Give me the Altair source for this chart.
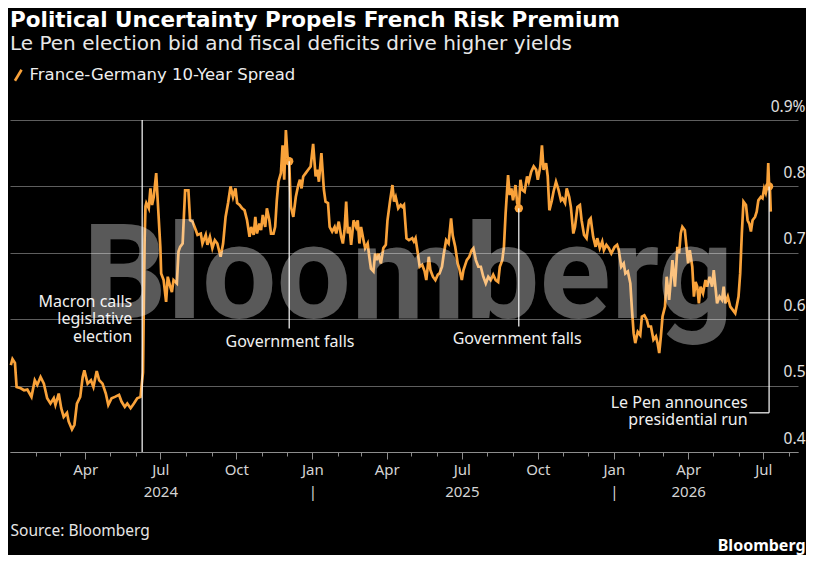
import altair as alt
import pandas as pd

SERIES = "France-Germany 10-Year Spread"
ORANGE = "#f9a23a"
FONT = "Noto Sans"
HEAD_FONT = "DejaVu Sans"

spread_2024 = [
    ("2024-01-02", 0.531), ("2024-01-04", 0.540), ("2024-01-07", 0.534), ("2024-01-09", 0.498),
    ("2024-01-14", 0.496), ("2024-01-18", 0.493), ("2024-01-22", 0.494), ("2024-01-27", 0.483),
    ("2024-01-31", 0.508), ("2024-02-03", 0.501), ("2024-02-07", 0.513), ("2024-02-11", 0.503),
    ("2024-02-15", 0.481), ("2024-02-19", 0.473), ("2024-02-23", 0.481), ("2024-02-25", 0.471),
    ("2024-02-29", 0.488), ("2024-03-03", 0.466), ("2024-03-06", 0.453), ("2024-03-10", 0.459),
    ("2024-03-12", 0.446), ("2024-03-16", 0.434), ("2024-03-19", 0.441), ("2024-03-22", 0.473),
    ("2024-03-26", 0.483), ("2024-03-29", 0.513), ("2024-03-31", 0.523), ("2024-04-04", 0.503),
    ("2024-04-08", 0.508), ("2024-04-11", 0.498), ("2024-04-15", 0.522), ("2024-04-18", 0.508),
    ("2024-04-22", 0.503), ("2024-04-26", 0.488), ("2024-04-29", 0.471), ("2024-05-03", 0.481),
    ("2024-05-07", 0.483), ("2024-05-12", 0.486), ("2024-05-15", 0.476), ("2024-05-19", 0.468),
    ("2024-05-22", 0.473), ("2024-05-26", 0.466), ("2024-05-30", 0.473), ("2024-06-03", 0.481),
    ("2024-06-07", 0.483), ("2024-06-10", 0.520), ("2024-06-11", 0.620), ("2024-06-12", 0.720),
    ("2024-06-13", 0.770), ("2024-06-14", 0.775), ("2024-06-17", 0.767), ("2024-06-19", 0.797),
    ("2024-06-21", 0.772), ("2024-06-23", 0.784), ("2024-06-26", 0.820), ("2024-06-28", 0.775),
    ("2024-07-01", 0.709), ("2024-07-02", 0.669), ("2024-07-05", 0.659), ("2024-07-08", 0.626),
    ("2024-07-10", 0.664), ("2024-07-13", 0.649), ("2024-07-15", 0.641), ("2024-07-17", 0.659),
    ("2024-07-21", 0.654), ("2024-07-23", 0.702), ("2024-07-25", 0.709), ("2024-07-28", 0.714),
    ("2024-07-31", 0.794), ("2024-08-04", 0.794), ("2024-08-06", 0.749), ("2024-08-09", 0.747),
    ("2024-08-13", 0.734), ("2024-08-15", 0.727), ("2024-08-19", 0.729), ("2024-08-21", 0.714),
    ("2024-08-25", 0.727), ("2024-08-27", 0.712), ("2024-08-30", 0.724), ("2024-09-02", 0.707),
    ("2024-09-05", 0.719), ("2024-09-08", 0.714), ("2024-09-12", 0.694), ("2024-09-15", 0.714),
    ("2024-09-18", 0.754), ("2024-09-21", 0.775), ("2024-09-24", 0.800), ("2024-09-27", 0.784),
    ("2024-09-30", 0.797), ("2024-10-02", 0.775), ("2024-10-05", 0.772), ("2024-10-08", 0.767),
    ("2024-10-11", 0.764), ("2024-10-14", 0.749), ("2024-10-17", 0.724), ("2024-10-19", 0.739),
    ("2024-10-22", 0.727), ("2024-10-24", 0.754), ("2024-10-26", 0.729), ("2024-10-29", 0.744),
    ("2024-10-31", 0.734), ("2024-11-02", 0.757), ("2024-11-05", 0.739), ("2024-11-07", 0.767),
    ("2024-11-10", 0.749), ("2024-11-12", 0.729), ("2024-11-15", 0.729), ("2024-11-17", 0.739),
    ("2024-11-19", 0.779), ("2024-11-21", 0.807), ("2024-11-24", 0.820), ("2024-11-26", 0.862),
    ("2024-11-28", 0.810), ("2024-11-30", 0.885), ("2024-12-02", 0.845), ("2024-12-04", 0.838),
    ("2024-12-06", 0.770), ("2024-12-09", 0.754), ("2024-12-12", 0.784), ("2024-12-15", 0.802),
    ("2024-12-17", 0.810), ("2024-12-19", 0.797), ("2024-12-21", 0.815), ("2024-12-24", 0.820),
    ("2024-12-27", 0.825), ("2024-12-30", 0.830),
]

spread_2025 = [
    ("2025-01-02", 0.864), ("2025-01-05", 0.815), ("2025-01-07", 0.825), ("2025-01-09", 0.807),
    ("2025-01-12", 0.850), ("2025-01-15", 0.795), ("2025-01-17", 0.777), ("2025-01-20", 0.775),
    ("2025-01-22", 0.739), ("2025-01-25", 0.732), ("2025-01-28", 0.739), ("2025-01-30", 0.729),
    ("2025-02-02", 0.747), ("2025-02-05", 0.724), ("2025-02-07", 0.714), ("2025-02-09", 0.734),
    ("2025-02-11", 0.777), ("2025-02-13", 0.729), ("2025-02-15", 0.739), ("2025-02-17", 0.712),
    ("2025-02-20", 0.749), ("2025-02-23", 0.739), ("2025-02-25", 0.749), ("2025-02-27", 0.714),
    ("2025-03-01", 0.739), ("2025-03-04", 0.719), ("2025-03-06", 0.707), ("2025-03-09", 0.714),
    ("2025-03-11", 0.694), ("2025-03-13", 0.676), ("2025-03-16", 0.672), ("2025-03-18", 0.699),
    ("2025-03-20", 0.689), ("2025-03-22", 0.699), ("2025-03-25", 0.684), ("2025-03-28", 0.707),
    ("2025-03-31", 0.712), ("2025-04-02", 0.749), ("2025-04-05", 0.777), ("2025-04-08", 0.802),
    ("2025-04-10", 0.777), ("2025-04-12", 0.784), ("2025-04-15", 0.767), ("2025-04-18", 0.772),
    ("2025-04-20", 0.769), ("2025-04-22", 0.772), ("2025-04-25", 0.722), ("2025-04-28", 0.719),
    ("2025-05-02", 0.722), ("2025-05-04", 0.717), ("2025-05-06", 0.722), ("2025-05-09", 0.697),
    ("2025-05-11", 0.679), ("2025-05-14", 0.682), ("2025-05-17", 0.672), ("2025-05-19", 0.659),
    ("2025-05-22", 0.694), ("2025-05-24", 0.674), ("2025-05-27", 0.664), ("2025-05-30", 0.659),
    ("2025-06-02", 0.667), ("2025-06-04", 0.669), ("2025-06-07", 0.679), ("2025-06-09", 0.697),
    ("2025-06-12", 0.719), ("2025-06-15", 0.714), ("2025-06-18", 0.752), ("2025-06-20", 0.726),
    ("2025-06-23", 0.709), ("2025-06-26", 0.684), ("2025-06-28", 0.676), ("2025-07-01", 0.659),
    ("2025-07-03", 0.674), ("2025-07-07", 0.689), ("2025-07-10", 0.694), ("2025-07-13", 0.704),
    ("2025-07-15", 0.707), ("2025-07-18", 0.689), ("2025-07-21", 0.679), ("2025-07-24", 0.679),
    ("2025-07-27", 0.664), ("2025-07-30", 0.654), ("2025-08-02", 0.664), ("2025-08-05", 0.659),
    ("2025-08-08", 0.667), ("2025-08-11", 0.659), ("2025-08-14", 0.656), ("2025-08-16", 0.679),
    ("2025-08-19", 0.689), ("2025-08-21", 0.709), ("2025-08-23", 0.759), ("2025-08-26", 0.817),
    ("2025-08-28", 0.787), ("2025-08-30", 0.797), ("2025-09-01", 0.779), ("2025-09-04", 0.802),
    ("2025-09-06", 0.775), ("2025-09-08", 0.767), ("2025-09-10", 0.810), ("2025-09-12", 0.795),
    ("2025-09-15", 0.792), ("2025-09-18", 0.815), ("2025-09-20", 0.807), ("2025-09-23", 0.822),
    ("2025-09-26", 0.830), ("2025-09-29", 0.825), ("2025-10-01", 0.810), ("2025-10-04", 0.830),
    ("2025-10-06", 0.862), ("2025-10-08", 0.825), ("2025-10-11", 0.835), ("2025-10-13", 0.815),
    ("2025-10-15", 0.764), ("2025-10-18", 0.779), ("2025-10-20", 0.792), ("2025-10-23", 0.807),
    ("2025-10-26", 0.795), ("2025-10-29", 0.779), ("2025-10-31", 0.782), ("2025-11-03", 0.775),
    ("2025-11-05", 0.797), ("2025-11-08", 0.784), ("2025-11-10", 0.769), ("2025-11-13", 0.729),
    ("2025-11-15", 0.739), ("2025-11-18", 0.769), ("2025-11-21", 0.772), ("2025-11-23", 0.749),
    ("2025-11-26", 0.727), ("2025-11-29", 0.722), ("2025-12-02", 0.749), ("2025-12-04", 0.752),
    ("2025-12-07", 0.724), ("2025-12-10", 0.709), ("2025-12-12", 0.722), ("2025-12-15", 0.707),
    ("2025-12-18", 0.717), ("2025-12-20", 0.704), ("2025-12-23", 0.712), ("2025-12-26", 0.707),
    ("2025-12-29", 0.699),
]

spread_2026 = [
    ("2026-01-02", 0.709), ("2026-01-05", 0.712), ("2026-01-07", 0.704), ("2026-01-10", 0.679),
    ("2026-01-13", 0.684), ("2026-01-15", 0.669), ("2026-01-18", 0.672), ("2026-01-21", 0.654),
    ("2026-01-23", 0.614), ("2026-01-25", 0.579), ("2026-01-27", 0.564), ("2026-01-30", 0.581),
    ("2026-02-02", 0.576), ("2026-02-04", 0.604), ("2026-02-07", 0.606), ("2026-02-10", 0.599),
    ("2026-02-12", 0.589), ("2026-02-15", 0.589), ("2026-02-18", 0.569), ("2026-02-21", 0.574),
    ("2026-02-23", 0.564), ("2026-02-25", 0.549), ("2026-02-27", 0.574), ("2026-03-01", 0.604),
    ("2026-03-04", 0.619), ("2026-03-06", 0.664), ("2026-03-09", 0.629), ("2026-03-11", 0.659),
    ("2026-03-13", 0.689), ("2026-03-16", 0.649), ("2026-03-19", 0.709), ("2026-03-21", 0.699),
    ("2026-03-23", 0.729), ("2026-03-25", 0.739), ("2026-03-28", 0.734), ("2026-03-30", 0.709),
    ("2026-04-01", 0.684), ("2026-04-03", 0.704), ("2026-04-06", 0.679), ("2026-04-08", 0.634),
    ("2026-04-10", 0.656), ("2026-04-12", 0.649), ("2026-04-14", 0.624), ("2026-04-16", 0.649),
    ("2026-04-19", 0.639), ("2026-04-22", 0.659), ("2026-04-24", 0.649), ("2026-04-27", 0.664),
    ("2026-04-30", 0.649), ("2026-05-02", 0.674), ("2026-05-04", 0.649), ("2026-05-06", 0.624),
    ("2026-05-09", 0.634), ("2026-05-12", 0.629), ("2026-05-14", 0.649), ("2026-05-16", 0.624),
    ("2026-05-19", 0.634), ("2026-05-22", 0.619), ("2026-05-25", 0.614), ("2026-05-28", 0.609),
    ("2026-05-30", 0.621), ("2026-06-01", 0.634), ("2026-06-03", 0.669), ("2026-06-05", 0.729),
    ("2026-06-07", 0.777), ("2026-06-10", 0.772), ("2026-06-12", 0.749), ("2026-06-14", 0.744),
    ("2026-06-16", 0.732), ("2026-06-18", 0.749), ("2026-06-21", 0.754), ("2026-06-23", 0.762),
    ("2026-06-25", 0.779), ("2026-06-28", 0.784), ("2026-06-30", 0.782), ("2026-07-02", 0.797),
    ("2026-07-04", 0.790), ("2026-07-06", 0.802), ("2026-07-07", 0.835), ("2026-07-08", 0.800),
    ("2026-07-09", 0.797), ("2026-07-10", 0.762),
]

# Annotation events: date, top of marker line, bottom of marker line
event_dates = ["2024-06-09", "2024-12-04", "2025-09-08", "2026-07-08"]
event_top = [0.900, 0.838, 0.767, 0.800]
event_bottom = [0.400, 0.586, 0.589, 0.459]
dot_flags = [False, True, True, True]

right_labels = ["Macron calls\nlegislative\nelection", "Le Pen announces\npresidential run"]
right_label_dates = ["2024-05-28", "2026-06-12"]
right_label_values = [0.626, 0.4738]

center_labels = ["Government falls", "Government falls"]
center_label_dates = ["2024-12-05", "2025-09-06"]
center_label_values = [0.565, 0.570]

connector_start = ["2026-06-14"]
connector_end = ["2026-07-08"]
connector_value = [0.459]

y_ticks = [0.4, 0.5, 0.6, 0.7, 0.8, 0.9]

rows = spread_2024 + spread_2025 + spread_2026
df = pd.DataFrame(rows, columns=["date", "value"])
df["series"] = SERIES

events = pd.DataFrame({"date": event_dates, "value": event_top, "value2": event_bottom, "dot": dot_flags})
dots = events[events["dot"]]
rlab = pd.DataFrame({"date": right_label_dates, "value": right_label_values, "label": right_labels})
clab = pd.DataFrame({"date": center_label_dates, "value": center_label_values, "label": center_labels})
conn = pd.DataFrame({"date": connector_start, "date2": connector_end, "value": connector_value})
wm = pd.DataFrame({"date": ["2025-04-27"], "value": [0.602], "label": ["Bloomberg"]})

month_ticks = []
quarter_ticks = []
for yr in (2024, 2025, 2026):
    for mo in range(1, 13):
        if (yr == 2024 and mo == 1) or (yr == 2026 and mo > 8):
            continue
        month_ticks.append(alt.DateTime(year=yr, month=mo, date=1))
        if mo % 3 == 1:
            quarter_ticks.append(alt.DateTime(year=yr, month=mo, date=1))

label_expr = (
    "(month(datum.value) == 6 && year(datum.value) == 2024) ? ['Jul', '2024'] : "
    "(month(datum.value) == 6 && year(datum.value) == 2025) ? ['Jul', '2025'] : "
    "(month(datum.value) == 3 && year(datum.value) == 2026) ? ['Apr', '2026'] : "
    "(month(datum.value) == 0) ? [timeFormat(datum.value, '%b'), '|'] : "
    "timeFormat(datum.value, '%b')"
)

def x_scale():
    return alt.Scale(domain=[alt.DateTime(year=2024, month=1, date=1),
                             alt.DateTime(year=2026, month=8, date=12)])

y_scale = alt.Scale(domain=[0.4, 0.9], nice=False, zero=False)

x_axis = alt.Axis(
    orient="bottom", values=quarter_ticks, labelExpr=label_expr, grid=False,
    domainColor="#8c8c8c", tickColor="#8c8c8c", tickSize=7,
    labelPadding=3, labelFont=FONT, labelFontSize=15, labelColor="#d4d4d4",
    labelLineHeight=22, labelOverlap=False, labelFlush=False,
    title="Source: Bloomberg", titleFont=FONT, titleFontSize=15.5, titleFontWeight="normal",
    titleColor="#e6e6e6", titleX=0, titleY=83, titleAlign="left", titleBaseline="alphabetic",
    titleAngle=0,
)
minor_axis = alt.Axis(
    orient="bottom", values=month_ticks, labels=False, domain=False, grid=False,
    ticks=True, tickSize=4, tickColor="#8c8c8c", title=None,
)
y_axis = alt.Axis(
    orient="right", values=y_ticks, format=".1f",
    labelExpr="datum.value > 0.85 ? datum.label + '%' : datum.label",
    domain=False, ticks=False, grid=True, gridColor="#5e5e5e", gridWidth=1,
    labelAlign="right", labelBaseline="alphabetic", labelPadding=7, labelOffset=-9,
    labelFont=FONT, labelFontSize=15.5, labelColor="#e0e0e0",
    title="Bloomberg", titleFont=FONT, titleFontSize=16, titleFontWeight="bold",
    titleColor="#ffffff", titleAngle=0, titleAlign="right", titleBaseline="alphabetic",
    titleX=7, titleY=430,
)

line = alt.Chart(df).mark_line(strokeWidth=2.7).encode(
    x=alt.X("date:T", scale=x_scale(), axis=x_axis),
    y=alt.Y("value:Q", scale=y_scale, axis=y_axis),
    color=alt.Color(
        "series:N",
        scale=alt.Scale(domain=[SERIES], range=[ORANGE]),
        legend=alt.Legend(
            title=None, orient="none", legendX=0, legendY=-53,
            symbolType="M-0.6,1L0.6,-1", symbolSize=121, symbolStrokeWidth=2.6,
            labelFont=HEAD_FONT, labelFontSize=16.5, labelColor="#eeeeee", labelOffset=3,
            labelLimit=500,
        ),
    ),
)

connector = alt.Chart(conn).mark_rule(color="#ffffff", strokeWidth=1.2).encode(
    x="date:T", x2="date2:T", y="value:Q"
)
points = alt.Chart(dots).mark_point(filled=True, size=70, color=ORANGE, opacity=1).encode(
    x="date:T", y="value:Q"
)
rtext = alt.Chart(rlab).mark_text(
    align="right", baseline="middle", font=FONT, fontSize=16, color="#f0f0f0",
    lineBreak="\n", lineHeight=17.5,
).encode(x="date:T", y="value:Q", text="label:N")
ctext = alt.Chart(clab).mark_text(
    align="center", baseline="middle", font=FONT, fontSize=16, color="#f0f0f0",
).encode(x="date:T", y="value:Q", text="label:N")
watermark = alt.Chart(wm).mark_text(
    align="center", baseline="alphabetic", font="Roboto", fontWeight="bold",
    fontSize=132, color="#ffffff", opacity=0.35,
).encode(x="date:T", y="value:Q", text="label:N")

main = alt.layer(line, connector, points, rtext, ctext, watermark)

# event marker lines carry the monthly minor ticks on a matching scale
rules = alt.Chart(events).mark_rule(color="#ffffff", strokeWidth=1.2).encode(
    x=alt.X("date:T", scale=x_scale(), axis=minor_axis),
    y="value:Q", y2="value2:Q",
)

chart = alt.layer(main, rules).resolve_scale(x="independent").properties(
    width=788, height=332,
    background="#000000",
    autosize=alt.AutoSizeParams(type="none"),
    padding={"left": 2, "top": 112, "right": 8, "bottom": 103},
    title=alt.TitleParams(
        text="Political Uncertainty Propels French Risk Premium",
        subtitle="Le Pen election bid and fiscal deficits drive higher yields",
        anchor="start", frame="group", font=HEAD_FONT, fontSize=21.5, fontWeight="bold",
        color="#ffffff",
        subtitleFont=HEAD_FONT, subtitleFontSize=20, subtitleColor="#e8e8e8",
        subtitlePadding=3, offset=13,
    ),
).configure_view(strokeWidth=0)

chart.save("out.html", embed_options={"renderer": "svg", "actions": False})
